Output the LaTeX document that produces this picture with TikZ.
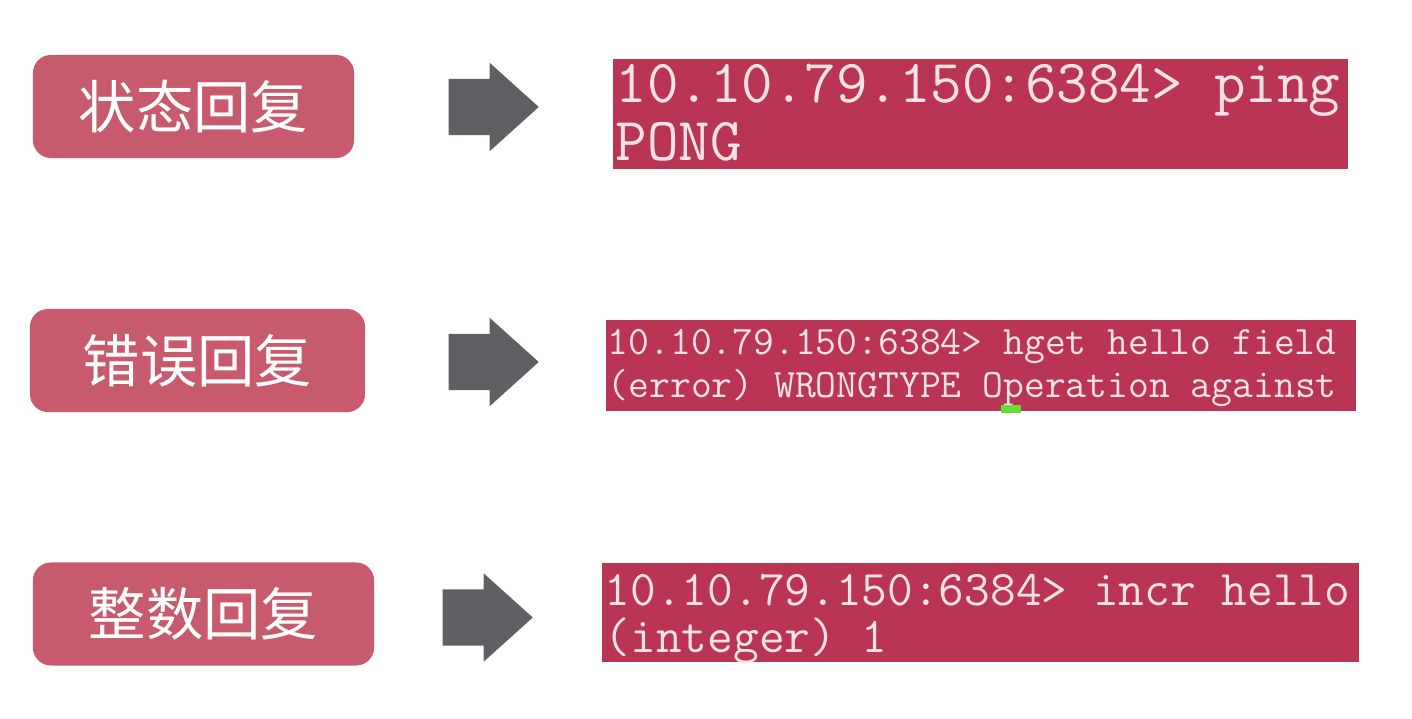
\documentclass[tikz,border=0pt]{standalone}
\usepackage{fontspec}
\newfontfamily\cjk{Noto Sans CJK SC}
\usetikzlibrary{shapes.arrows}
\definecolor{tagred}{RGB}{200,90,110}
\definecolor{termred}{RGB}{185,53,83}
\definecolor{termtext}{RGB}{248,226,231}
\definecolor{blockgray}{RGB}{95,96,100}
\definecolor{cursorgreen}{RGB}{102,221,51}

\begin{document}
\begin{tikzpicture}[x=0.01cm, y=-0.01cm,
tag/.style={fill=tagred, rounded corners=0.18cm, text=white, inner sep=0, font=\cjk\fontsize{16.3}{16}\selectfont, minimum height=1.03cm},
termbox/.style={fill=termred, inner sep=0},
termtext/.style={anchor=base west, inner sep=0, text=termtext, align=left, execute at begin node={\lineskiplimit=-20pt}},
blockarrow/.style={single arrow, fill=blockgray, anchor=tail, inner xsep=0, inner ysep=0.275cm, minimum height=0.9cm, single arrow head extend=0.16cm, single arrow tip angle=84}
]
\useasboundingbox (0,0) rectangle (1412,718);
% reply types
\node[tag, minimum width=3.21cm] (status) at (193.5,106.5) {状态回复};
\node[tag, minimum width=3.35cm] (error) at (197.5,360.5) {错误回复};
\node[tag, minimum width=3.41cm] (integer) at (203.5,614) {整数回复};
% arrows
\node[blockarrow] (arrowa) at (448,107) {};
\node[blockarrow] (arrowb) at (448,362) {};
\node[blockarrow] (arrowc) at (442,617.5) {};
% terminal output (anchored at the baseline of the second line)
\node[termbox, minimum width=7.35cm, minimum height=1.10cm] (pingbox) at (980.5,114) {};
\node[termbox, minimum width=7.50cm, minimum height=0.91cm] (hgetbox) at (981,365.5) {};
\node[termbox, minimum width=7.57cm, minimum height=0.99cm] (incrbox) at (980.5,612.5) {};
\node[termtext, font=\ttfamily\fontsize{17.4}{16.4}\selectfont] (ping) at (615,160) {10.10.79.150:6384> ping\\PONG};
\node[termtext, font=\ttfamily\fontsize{11.5}{11.95}\selectfont] (hget) at (607,397) {10.10.79.150:6384> hget hello field\\(error) WRONGTYPE Operation against};
\node[termtext, font=\ttfamily\fontsize{14.2}{13.1}\selectfont] (incr) at (604,652) {10.10.79.150:6384> incr hello\\(integer) 1};
% cursor
\fill[cursorgreen] (1001,405) rectangle (1021,413);
\end{tikzpicture}
\end{document}
